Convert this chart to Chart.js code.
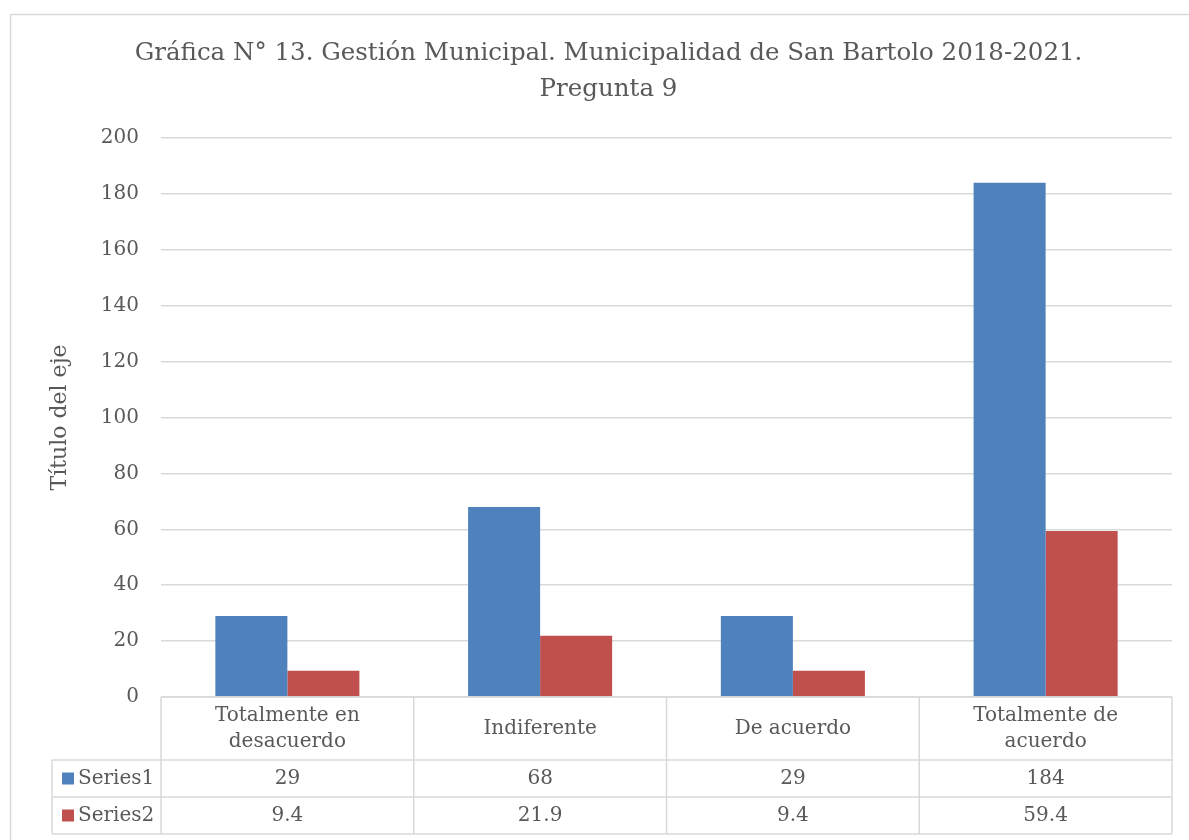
<!DOCTYPE html>
<html>
<head>
<meta charset="utf-8">
<script src="https://cdn.jsdelivr.net/npm/chart.js@4"></script>
<style>
  html, body { margin: 0; padding: 0; background: #fff; }
  #wrap { width: 1189px; height: 840px; position: relative; }
</style>
</head>
<body>
<div id="wrap"><canvas id="chart" width="1189" height="840"></canvas></div>
<script>
const categories = [["Totalmente en", "desacuerdo"], ["Indiferente"], ["De acuerdo"], ["Totalmente de", "acuerdo"]];
const series1 = [29, 68, 29, 184];
const series2 = [9.4, 21.9, 9.4, 59.4];
const seriesNames = ["Series1", "Series2"];
const seriesColors = ["#4F81BD", "#C0504D"];

const FONT = "'DejaVu Serif', serif";
const TEXT = "#595959";
const LINE = "#d9d9d9";

// draws the frame and the data table under the plot
const tablePlugin = {
    id: "dataTable",
    beforeDraw(chart) {
        const ctx = chart.ctx;
        ctx.save();
        ctx.fillStyle = "#fff";
        ctx.fillRect(0, 0, chart.width, chart.height);
        ctx.strokeStyle = LINE;
        ctx.lineWidth = 1.5;
        ctx.beginPath();
        ctx.moveTo(10.5, chart.height);
        ctx.lineTo(10.5, 14.5);
        ctx.lineTo(chart.width, 14.5);
        ctx.stroke();
        ctx.restore();
    },
    afterDraw(chart) {
        const ctx = chart.ctx;
        const area = chart.chartArea;
        const n = categories.length;
        const w = (area.right - area.left) / n;
        const top = area.bottom;
        const headBottom = top + 63;
        const rowH = 37;
        const tableLeft = 52;
        const allData = [series1, series2];

        ctx.save();
        ctx.strokeStyle = LINE;
        ctx.lineWidth = 1.5;
        ctx.beginPath();
        // horizontal lines
        ctx.moveTo(area.left, top); ctx.lineTo(area.right, top);
        for (let r = 0; r <= allData.length; r++) {
            const y = headBottom + r * rowH;
            ctx.moveTo(tableLeft, y); ctx.lineTo(area.right, y);
        }
        // vertical lines
        for (let i = 0; i <= n; i++) {
            const x = area.left + i * w;
            ctx.moveTo(x, top); ctx.lineTo(x, headBottom + allData.length * rowH);
        }
        ctx.moveTo(tableLeft, headBottom); ctx.lineTo(tableLeft, headBottom + allData.length * rowH);
        ctx.stroke();

        ctx.fillStyle = TEXT;
        ctx.font = "20px " + FONT;
        ctx.textAlign = "center";
        ctx.textBaseline = "middle";
        const lh = 26;
        categories.forEach((lines, i) => {
            const cx = chart.scales.x.getPixelForValue(i);
            const cy = (top + headBottom) / 2;
            lines.forEach((t, k) => {
                ctx.fillText(t, cx, cy + (k - (lines.length - 1) / 2) * lh);
            });
        });

        allData.forEach((vals, r) => {
            const cy = headBottom + r * rowH + rowH / 2;
            ctx.fillStyle = seriesColors[r];
            ctx.fillRect(62, cy - 6, 12, 12);
            ctx.fillStyle = TEXT;
            ctx.textAlign = "left";
            ctx.fillText(seriesNames[r], 78, cy);
            ctx.textAlign = "center";
            vals.forEach((v, i) => {
                ctx.fillText(String(v), chart.scales.x.getPixelForValue(i), cy);
            });
        });
        ctx.restore();
    }
};

new Chart(document.getElementById("chart").getContext("2d"), {
    type: "bar",
    data: {
        labels: categories.map(c => c.join(" ")),
        datasets: [
            { label: seriesNames[0], data: series1, backgroundColor: seriesColors[0], borderWidth: 0 },
            { label: seriesNames[1], data: series2, backgroundColor: seriesColors[1], borderWidth: 0 }
        ]
    },
    options: {
        responsive: false,
        animation: false,
        datasets: { bar: { categoryPercentage: 0.57, barPercentage: 1 } },
        layout: { padding: { left: 45, right: 17, top: 28, bottom: 143 } },
        plugins: {
            legend: { display: false },
            tooltip: { enabled: false },
            title: {
                display: true,
                text: ["Gráfica N° 13. Gestión Municipal. Municipalidad de San Bartolo 2018-2021.", "Pregunta 9"],
                color: TEXT,
                font: { family: FONT, size: 24.5, weight: "normal", lineHeight: 1.45 },
                padding: { top: 8, bottom: 31 }
            }
        },
        scales: {
            x: { display: false },
            y: {
                min: 0,
                max: 200,
                ticks: { stepSize: 20, color: TEXT, padding: 22, font: { family: FONT, size: 20 } },
                grid: { color: LINE, lineWidth: 1.5, drawTicks: false },
                border: { display: false },
                title: {
                    display: true,
                    text: "Título del eje",
                    color: TEXT,
                    font: { family: FONT, size: 22, weight: "normal" },
                    padding: 2
                },
                afterFit(scale) { scale.width = 116; }
            }
        }
    },
    plugins: [tablePlugin]
});
</script>
</body>
</html>
